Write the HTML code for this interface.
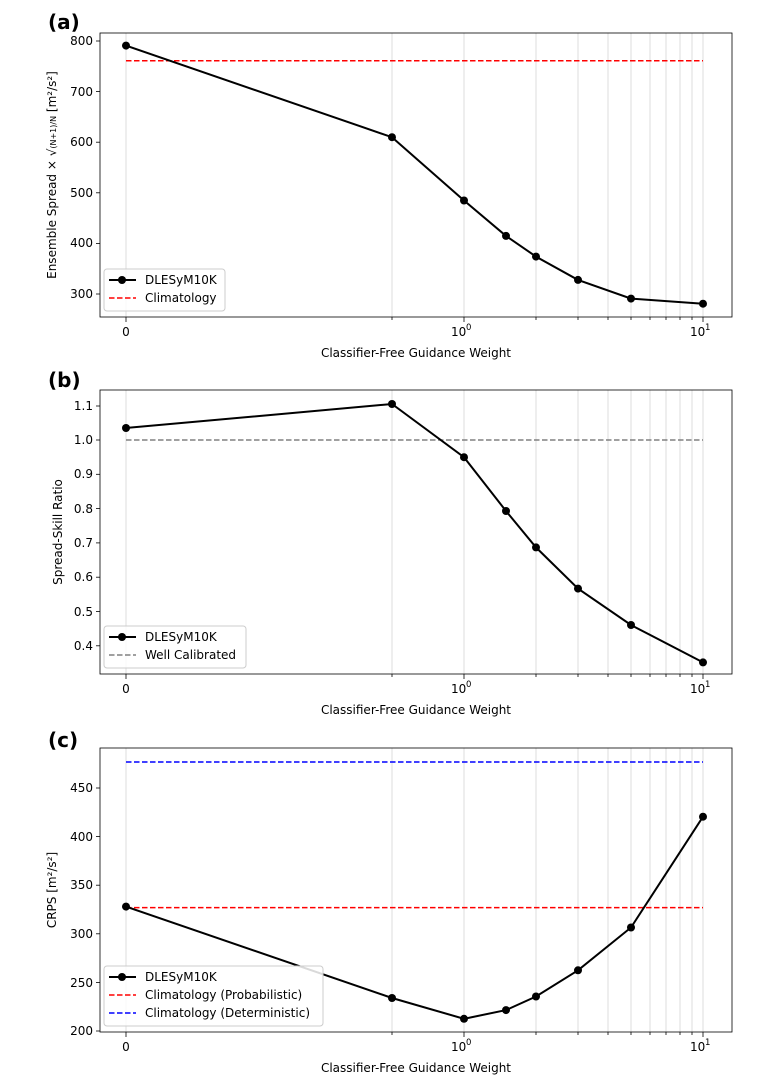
<!DOCTYPE html><html><head><style>body{margin:0;background:#fff}svg text{font-family:"DejaVu Sans","Liberation Sans",sans-serif;fill:#000}</style></head><body>
<svg width="783" height="1086" xmlns="http://www.w3.org/2000/svg" font-size="12">
<defs>
<g id="grid" stroke="#dcdcdc" stroke-width="1">
<line x1="126" x2="126" y1="0" y2="284"/><line x1="392" x2="392" y1="0" y2="284"/><line x1="464" x2="464" y1="0" y2="284"/><line x1="536" x2="536" y1="0" y2="284"/><line x1="578" x2="578" y1="0" y2="284"/><line x1="608" x2="608" y1="0" y2="284"/><line x1="631" x2="631" y1="0" y2="284"/><line x1="650" x2="650" y1="0" y2="284"/><line x1="666" x2="666" y1="0" y2="284"/><line x1="680" x2="680" y1="0" y2="284"/><line x1="692" x2="692" y1="0" y2="284"/><line x1="703" x2="703" y1="0" y2="284"/>
</g>
<g id="xt" stroke="#000" stroke-width="0.8">
<line x1="126" x2="126" y1="284" y2="289"/><line x1="464" x2="464" y1="284" y2="289"/><line x1="703" x2="703" y1="284" y2="289"/>
<line x1="392" x2="392" y1="284" y2="287"/><line x1="536" x2="536" y1="284" y2="287"/><line x1="578" x2="578" y1="284" y2="287"/><line x1="608" x2="608" y1="284" y2="287"/><line x1="631" x2="631" y1="284" y2="287"/><line x1="650" x2="650" y1="284" y2="287"/><line x1="666" x2="666" y1="284" y2="287"/><line x1="680" x2="680" y1="284" y2="287"/><line x1="692" x2="692" y1="284" y2="287"/>
</g>
<g id="xl">
<text x="126" y="303" text-anchor="middle">0</text>
<text x="451" y="303">10</text><text x="466" y="297" font-size="8.5">0</text>
<text x="690" y="303">10</text><text x="705" y="297" font-size="8.5">1</text>
<text x="416" y="324" text-anchor="middle">Classifier-Free Guidance Weight</text>
</g>
</defs>

<!-- (a) -->
<g transform="translate(0,33)">
<use href="#grid"/>
<line x1="126" x2="703" y1="27.7" y2="27.7" stroke="#f00" stroke-width="1.5" stroke-dasharray="5.5,2.5"/>
<polyline fill="none" stroke="#000" stroke-width="2" points="126,12.6 392,104.2 464,167.5 506,202.9 536,223.6 578,246.9 631,265.6 703,270.7"/>
<g fill="#000"><circle cx="126" cy="12.6" r="4"/><circle cx="392" cy="104.2" r="4"/><circle cx="464" cy="167.5" r="4"/><circle cx="506" cy="202.9" r="4"/><circle cx="536" cy="223.6" r="4"/><circle cx="578" cy="246.9" r="4"/><circle cx="631" cy="265.6" r="4"/><circle cx="703" cy="270.7" r="4"/></g>
<rect x="100" y="0" width="632" height="284" fill="none" stroke="#000" stroke-width="0.8"/>
<g stroke="#000" stroke-width="0.8"><line x1="96" x2="100" y1="8" y2="8"/><line x1="96" x2="100" y1="58.6" y2="58.6"/><line x1="96" x2="100" y1="109.2" y2="109.2"/><line x1="96" x2="100" y1="159.8" y2="159.8"/><line x1="96" x2="100" y1="210.4" y2="210.4"/><line x1="96" x2="100" y1="261" y2="261"/></g>
<g text-anchor="end"><text x="93" y="12">800</text><text x="93" y="63">700</text><text x="93" y="113">600</text><text x="93" y="164">500</text><text x="93" y="214">400</text><text x="93" y="265">300</text></g>
<use href="#xt"/><use href="#xl"/>
<text transform="translate(56,142) rotate(-90)" text-anchor="middle" font-size="12">Ensemble Spread × √<tspan font-size="8">(N+1)/N</tspan> [m²/s²]</text>
<text x="48" y="-4" font-size="20" font-weight="bold">(a)</text>
<rect x="104" y="236" width="121" height="42" rx="3" fill="#fff" fill-opacity="0.85" stroke="#ccc"/>
<line x1="109" x2="136" y1="247" y2="247" stroke="#000" stroke-width="2"/><circle cx="122" cy="247" r="4"/>
<text x="145" y="251">DLESyM10K</text>
<line x1="109" x2="136" y1="265" y2="265" stroke="#f00" stroke-width="1.5" stroke-dasharray="5.5,2.5"/>
<text x="145" y="269">Climatology</text>
</g>

<!-- (b) -->
<g transform="translate(0,390)">
<use href="#grid"/>
<line x1="126" x2="703" y1="50" y2="50" stroke="#808080" stroke-width="1.5" stroke-dasharray="5.5,2.5"/>
<polyline fill="none" stroke="#000" stroke-width="2" points="126,38 392,14 464,67.2 506,121 536,157.4 578,198.6 631,235 703,272.4"/>
<g fill="#000"><circle cx="126" cy="38" r="4"/><circle cx="392" cy="14" r="4"/><circle cx="464" cy="67.2" r="4"/><circle cx="506" cy="121" r="4"/><circle cx="536" cy="157.4" r="4"/><circle cx="578" cy="198.6" r="4"/><circle cx="631" cy="235" r="4"/><circle cx="703" cy="272.4" r="4"/></g>
<rect x="100" y="0" width="632" height="284" fill="none" stroke="#000" stroke-width="0.8"/>
<g stroke="#000" stroke-width="0.8"><line x1="96" x2="100" y1="16" y2="16"/><line x1="96" x2="100" y1="50" y2="50"/><line x1="96" x2="100" y1="84.3" y2="84.3"/><line x1="96" x2="100" y1="118.6" y2="118.6"/><line x1="96" x2="100" y1="152.9" y2="152.9"/><line x1="96" x2="100" y1="187.2" y2="187.2"/><line x1="96" x2="100" y1="221.5" y2="221.5"/><line x1="96" x2="100" y1="255.8" y2="255.8"/></g>
<g text-anchor="end"><text x="93" y="20">1.1</text><text x="93" y="54">1.0</text><text x="93" y="88">0.9</text><text x="93" y="123">0.8</text><text x="93" y="157">0.7</text><text x="93" y="191">0.6</text><text x="93" y="226">0.5</text><text x="93" y="260">0.4</text></g>
<use href="#xt"/><use href="#xl"/>
<text transform="translate(62,142) rotate(-90)" text-anchor="middle">Spread-Skill Ratio</text>
<text x="48" y="-3" font-size="20" font-weight="bold">(b)</text>
<rect x="104" y="236" width="142" height="42" rx="3" fill="#fff" fill-opacity="0.85" stroke="#ccc"/>
<line x1="109" x2="136" y1="247" y2="247" stroke="#000" stroke-width="2"/><circle cx="122" cy="247" r="4"/>
<text x="145" y="251">DLESyM10K</text>
<line x1="109" x2="136" y1="265" y2="265" stroke="#808080" stroke-width="1.5" stroke-dasharray="5.5,2.5"/>
<text x="145" y="269">Well Calibrated</text>
</g>

<!-- (c) -->
<g transform="translate(0,748)">
<use href="#grid"/>
<line x1="126" x2="703" y1="14" y2="14" stroke="#00f" stroke-width="1.5" stroke-dasharray="5.5,2.5"/>
<line x1="126" x2="703" y1="159.6" y2="159.6" stroke="#f00" stroke-width="1.5" stroke-dasharray="5.5,2.5"/>
<polyline fill="none" stroke="#000" stroke-width="2" points="126,158.6 392,250 464,270.8 506,262.1 536,248.5 578,222.3 631,179.5 703,68.7"/>
<g fill="#000"><circle cx="126" cy="158.6" r="4"/><circle cx="392" cy="250" r="4"/><circle cx="464" cy="270.8" r="4"/><circle cx="506" cy="262.1" r="4"/><circle cx="536" cy="248.5" r="4"/><circle cx="578" cy="222.3" r="4"/><circle cx="631" cy="179.5" r="4"/><circle cx="703" cy="68.7" r="4"/></g>
<rect x="100" y="0" width="632" height="284" fill="none" stroke="#000" stroke-width="0.8"/>
<g stroke="#000" stroke-width="0.8"><line x1="96" x2="100" y1="40" y2="40"/><line x1="96" x2="100" y1="88.6" y2="88.6"/><line x1="96" x2="100" y1="137.2" y2="137.2"/><line x1="96" x2="100" y1="185.8" y2="185.8"/><line x1="96" x2="100" y1="234.4" y2="234.4"/><line x1="96" x2="100" y1="283" y2="283"/></g>
<g text-anchor="end"><text x="93" y="44">450</text><text x="93" y="93">400</text><text x="93" y="141">350</text><text x="93" y="190">300</text><text x="93" y="239">250</text><text x="93" y="287">200</text></g>
<use href="#xt"/><use href="#xl"/>
<text transform="translate(56,142) rotate(-90)" text-anchor="middle">CRPS [m²/s²]</text>
<text x="48" y="-1" font-size="20" font-weight="bold">(c)</text>
<rect x="104" y="218" width="219" height="60" rx="3" fill="#fff" fill-opacity="0.85" stroke="#ccc"/>
<line x1="109" x2="136" y1="229" y2="229" stroke="#000" stroke-width="2"/><circle cx="122" cy="229" r="4"/>
<text x="145" y="233">DLESyM10K</text>
<line x1="109" x2="136" y1="247" y2="247" stroke="#f00" stroke-width="1.5" stroke-dasharray="5.5,2.5"/>
<text x="145" y="251">Climatology (Probabilistic)</text>
<line x1="109" x2="136" y1="265" y2="265" stroke="#00f" stroke-width="1.5" stroke-dasharray="5.5,2.5"/>
<text x="145" y="269">Climatology (Deterministic)</text>
</g>
</svg>
</body></html>
